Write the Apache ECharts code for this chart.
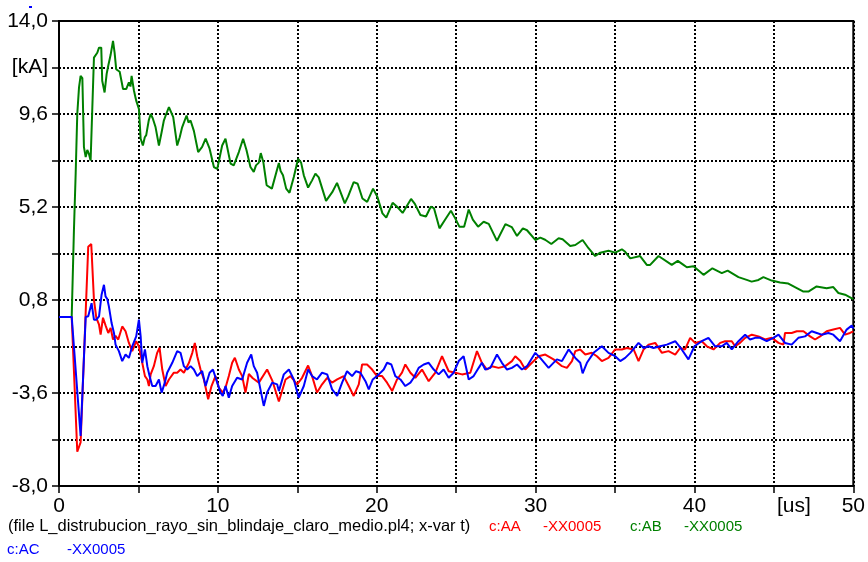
<!DOCTYPE html>
<html>
<head>
<meta charset="utf-8">
<script src="https://cdn.jsdelivr.net/npm/echarts@6/dist/echarts.min.js"></script>
<style>
  html, body { margin: 0; padding: 0; background: #fff; }
  #chart { width: 868px; height: 562px; }
</style>
</head>
<body>
<div id="chart"></div>
<script>
// ---- data (time in us, current in kA) ----
const xTickLabels = ['0', '10', '20', '30', '40', '[us]', '50'];
const yTickLabels = ['-8,0', '-3,6', '0,8', '5,2', '9,6', '[kA]', '14,0'];

// c:AA -XX0005 (red)
const aaData = [[0,0],[0.8,0],[1.15,-6.38],[1.36,-5.94],[1.84,3.32],[2.03,3.45],[2.2,0.81],[2.35,-0.05],[2.52,-0.37],[2.62,-0.84],[2.77,-0.04],[2.93,-0.4],[3.1,-0.76],[3.25,-0.52],[3.4,-1.07],[3.56,-0.9],[3.73,-1.07],[3.98,-0.45],[4.19,-0.68],[4.4,-1.23],[4.61,-1.62],[4.86,-1.15],[5.03,-1.4],[5.24,-2.17],[5.41,-2.8],[5.56,-2.96],[5.66,-3.27],[5.77,-2.72],[5.97,-2.33],[6.18,-1.7],[6.33,-1.46],[6.5,-2.49],[6.71,-3.27],[6.92,-2.96],[7.23,-2.64],[7.44,-2.64],[7.65,-2.49],[7.86,-2.64],[8.18,-2.17],[8.39,-1.7],[8.55,-1.23],[8.7,-1.86],[8.91,-2.49],[9.12,-2.96],[9.39,-3.9],[9.6,-3.27],[9.85,-2.8],[10.06,-3.35],[10.31,-3.58],[10.48,-3.35],[10.69,-2.8],[10.9,-2.17],[11.07,-1.93],[11.32,-2.49],[11.53,-2.8],[11.74,-3.58],[11.95,-2.7],[12.2,-2.9],[12.58,-3.11],[13.1,-2.49],[13.42,-3.0],[13.84,-4.0],[14.26,-2.96],[14.57,-2.8],[14.99,-3.19],[15.3,-2.88],[15.68,-2.3],[15.93,-2.8],[16.24,-3.58],[16.56,-3.19],[16.88,-2.88],[17.19,-3.11],[17.51,-2.96],[17.92,-2.8],[18.24,-3.27],[18.55,-3.74],[18.87,-3.19],[19.08,-2.25],[19.39,-2.25],[19.71,-2.49],[20.02,-2.8],[20.34,-2.8],[20.65,-3.11],[20.97,-3.51],[21.28,-2.96],[21.59,-2.64],[21.8,-2.25],[22.12,-2.64],[22.43,-2.88],[22.85,-2.49],[23.27,-3.04],[23.69,-2.64],[24.11,-1.86],[24.53,-2.57],[24.95,-2.64],[25.37,-2.72],[25.89,-2.64],[26.31,-1.62],[26.62,-2.17],[26.94,-2.49],[27.25,-2.33],[27.67,-2.41],[28.09,-2.33],[28.51,-2.09],[28.72,-1.86],[29.04,-2.09],[29.35,-2.49],[29.77,-2.17],[30.19,-1.86],[30.61,-1.78],[31.13,-2.01],[31.66,-2.33],[31.97,-2.41],[32.29,-2.09],[32.5,-1.62],[32.81,-1.54],[33.13,-1.78],[33.54,-1.7],[33.86,-1.86],[34.17,-2.09],[34.59,-1.94],[35.01,-1.54],[35.43,-1.54],[35.75,-1.47],[36.17,-1.54],[36.48,-2.09],[36.8,-1.54],[37.11,-1.31],[37.53,-1.23],[37.95,-1.7],[38.37,-1.62],[38.79,-1.78],[39.1,-1.47],[39.41,-1.54],[39.73,-0.99],[40.04,-1.23],[40.46,-1.15],[40.78,-1.39],[41.2,-1.54],[41.62,-1.23],[41.93,-1.15],[42.35,-1.15],[42.56,-1.39],[42.87,-1.23],[43.19,-0.99],[43.61,-0.84],[44.03,-0.92],[44.45,-1.07],[44.87,-0.99],[45.29,-1.23],[45.6,-1.31],[45.7,-0.76],[46.12,-0.76],[46.44,-0.68],[46.86,-0.68],[47.28,-0.92],[47.59,-1.07],[47.91,-0.92],[48.32,-0.68],[48.74,-0.6],[49.16,-0.52],[49.48,-0.84],[49.79,-0.76],[50,-0.68]];

// c:AB -XX0005 (green)
const abData = [[0,0],[0.8,0],[0.94,4.1],[1.05,6.8],[1.15,9.6],[1.26,10.86],[1.36,11.4],[1.47,11.3],[1.57,8.03],[1.68,7.56],[1.78,7.9],[1.89,7.7],[1.99,7.4],[2.2,12.27],[2.3,12.3],[2.41,12.5],[2.52,12.74],[2.66,12.74],[2.72,11.17],[2.87,10.62],[3.0,11.5],[3.1,11.88],[3.25,12.4],[3.4,13.06],[3.5,12.5],[3.6,11.72],[3.72,11.65],[3.82,11.6],[4.03,10.78],[4.23,10.78],[4.4,11.1],[4.5,10.9],[4.57,11.4],[4.72,10.7],[4.86,10.23],[5.03,9.84],[5.14,8.43],[5.28,8.11],[5.4,8.5],[5.49,8.6],[5.65,9.3],[5.77,9.6],[5.9,9.4],[6.08,8.97],[6.29,8.11],[6.45,8.7],[6.6,9.29],[6.75,9.6],[6.92,9.92],[7.05,9.7],[7.19,9.45],[7.44,8.11],[7.6,8.5],[7.75,8.97],[8.03,9.53],[8.15,9.2],[8.28,9.29],[8.49,8.8],[8.76,7.8],[9.01,8.04],[9.23,8.43],[9.48,7.96],[9.75,7.09],[9.96,7.0],[10.27,8.11],[10.48,8.43],[10.8,7.25],[11.0,7.17],[11.32,7.8],[11.59,8.43],[11.8,7.9],[12.05,7.09],[12.26,6.86],[12.4,7.17],[12.58,7.3],[12.7,7.75],[12.86,7.33],[13.07,6.23],[13.4,6.07],[13.84,7.28],[13.95,6.9],[14.1,6.7],[14.3,6.07],[14.51,5.87],[14.78,6.62],[15.05,7.48],[15.24,7.3],[15.41,6.7],[15.68,6.12],[15.93,6.46],[16.14,6.78],[16.35,6.6],[16.81,5.49],[17.2,5.9],[17.5,6.34],[17.99,5.37],[18.2,5.7],[18.55,6.38],[18.8,6.3],[19.1,5.6],[19.4,5.44],[19.77,6.07],[20.04,5.68],[20.36,4.9],[20.6,4.7],[21.0,5.4],[21.3,5.2],[21.63,4.92],[22.16,5.58],[22.4,5.35],[22.75,4.82],[23.1,4.75],[23.4,5.21],[23.6,5.15],[23.95,4.19],[24.3,4.6],[24.67,5.02],[24.95,4.65],[25.2,4.27],[25.5,4.27],[25.79,5.08],[26.05,4.6],[26.38,4.27],[26.73,4.5],[27.05,4.4],[27.57,3.6],[28.1,4.39],[28.5,4.25],[28.83,3.83],[29.2,4.19],[29.46,4.1],[29.98,3.64],[30.3,3.75],[30.6,3.65],[30.99,3.45],[31.45,3.72],[31.7,3.67],[32.18,3.35],[32.5,3.4],[32.96,3.64],[33.33,3.25],[33.75,2.88],[34.07,3.04],[34.59,3.13],[35.01,3.04],[35.43,3.2],[35.64,3.08],[35.96,2.77],[36.58,2.88],[37.0,2.46],[37.21,2.46],[37.74,2.88],[38.57,2.46],[38.95,2.65],[39.31,2.46],[39.52,2.35],[39.94,2.4],[40.57,1.99],[41.13,2.3],[41.72,2.07],[42.09,2.19],[42.77,1.88],[43.29,1.75],[43.6,1.67],[44.03,1.75],[44.34,1.88],[44.86,1.72],[45.39,1.63],[45.91,1.58],[46.86,1.2],[47.17,1.2],[47.69,1.44],[48.32,1.36],[48.74,1.41],[49.06,1.13],[49.48,1.05],[50,0.84]];

// c:AC -XX0005 (blue)
const acData = [[0,0],[0.8,0],[1.36,-5.63],[1.47,-5.63],[1.68,0.0],[1.84,0.03],[2.05,0.65],[2.2,-0.13],[2.35,-0.13],[2.52,0.03],[2.68,1.05],[2.83,1.52],[2.93,0.97],[3.04,0.85],[3.14,0.5],[3.31,-0.29],[3.46,-0.76],[3.56,-1.31],[3.77,-1.62],[3.98,-2.09],[4.19,-1.78],[4.4,-1.94],[4.61,-1.39],[4.86,-0.92],[5.03,-0.13],[5.14,-0.92],[5.24,-2.17],[5.41,-1.54],[5.56,-2.33],[5.7,-2.8],[5.87,-3.27],[6.08,-3.27],[6.29,-2.96],[6.46,-3.58],[6.66,-3.11],[6.81,-2.64],[7.13,-2.17],[7.44,-1.62],[7.65,-1.7],[7.86,-2.33],[8.07,-2.49],[8.28,-2.33],[8.49,-2.49],[8.7,-2.8],[9.01,-2.56],[9.23,-3.27],[9.48,-2.64],[9.69,-2.49],[9.96,-3.11],[10.17,-3.58],[10.31,-3.74],[10.48,-3.27],[10.69,-3.82],[10.9,-3.27],[11.21,-2.88],[11.53,-2.96],[11.84,-2.17],[12.1,-1.78],[12.26,-2.33],[12.47,-2.64],[12.68,-3.43],[12.89,-4.21],[13.1,-3.58],[13.42,-3.11],[13.73,-3.19],[13.84,-3.51],[14.15,-2.72],[14.47,-2.49],[14.78,-2.96],[15.09,-3.82],[15.41,-3.27],[15.68,-2.49],[15.93,-2.8],[16.24,-2.96],[16.56,-2.64],[16.88,-2.72],[17.19,-3.43],[17.51,-3.74],[17.82,-3.11],[18.13,-2.57],[18.45,-2.8],[18.7,-2.57],[18.97,-2.64],[19.29,-3.04],[19.5,-3.43],[19.75,-2.96],[20.13,-2.72],[20.44,-2.49],[20.65,-2.17],[20.92,-2.25],[21.17,-2.8],[21.49,-2.96],[21.8,-3.27],[22.12,-3.11],[22.33,-2.88],[22.64,-2.41],[22.96,-2.25],[23.27,-2.17],[23.59,-2.49],[23.9,-2.72],[24.21,-2.49],[24.53,-2.88],[24.84,-2.64],[25.16,-2.09],[25.47,-1.86],[25.79,-2.96],[26.1,-2.8],[26.42,-2.41],[26.62,-2.17],[26.83,-2.49],[27.15,-2.41],[27.57,-1.78],[27.88,-2.17],[28.2,-2.49],[28.51,-2.41],[28.83,-2.25],[29.14,-2.49],[29.46,-2.33],[29.98,-1.7],[30.29,-1.94],[30.82,-2.41],[31.34,-2.01],[31.66,-2.09],[32.08,-1.54],[32.5,-1.94],[32.81,-2.17],[32.96,-2.67],[33.23,-2.17],[33.65,-1.7],[34.17,-1.39],[34.59,-1.7],[35.01,-1.86],[35.33,-2.09],[35.64,-1.94],[35.96,-1.7],[36.48,-1.23],[36.8,-1.47],[37.11,-1.39],[37.42,-1.47],[37.84,-1.39],[38.26,-1.31],[38.79,-1.15],[39.2,-1.54],[39.62,-2.01],[40.0,-1.39],[40.46,-1.15],[40.88,-0.99],[41.3,-1.39],[41.72,-1.39],[42.03,-1.23],[42.35,-1.54],[42.77,-1.15],[43.19,-0.84],[43.5,-1.07],[43.82,-0.99],[44.13,-0.99],[44.55,-1.15],[44.97,-0.99],[45.29,-0.84],[45.7,-1.23],[46.12,-1.31],[46.54,-0.99],[46.96,-0.92],[47.38,-0.68],[47.7,-0.76],[48.01,-0.84],[48.43,-0.76],[48.74,-0.84],[49.16,-1.15],[49.58,-0.6],[49.9,-0.41],[50,-0.55]];

const footerText = '(file L_distrubucion_rayo_sin_blindaje_claro_medio.pl4; x-var t)';
const seriesNames = ['c:AA', 'c:AB', 'c:AC'];
const seriesVars = ['-XX0005', '-XX0005', '-XX0005'];

// ---- chart ----
const axisFont = "'Liberation Sans', Arial, sans-serif";
const textFont = "'Liberation Sans', Arial, sans-serif";
const X_MIN = 0, X_MAX = 50, X_STEP = 5;
const Y_MIN = -8, Y_MAX = 14, Y_STEP = 2.2;

const chart = echarts.init(document.getElementById('chart'), null, { renderer: 'canvas' });

const gridDots = { color: '#000', width: 2, type: [2, 2] };

const option = {
  animation: false,
  backgroundColor: '#fff',
  grid: { left: 59, right: 13, top: 21, bottom: 76, show: true, borderColor: '#000', borderWidth: 2, backgroundColor: 'transparent' },
  xAxis: {
    type: 'value', min: X_MIN, max: X_MAX, interval: X_STEP,
    axisLine: { show: true, onZero: false, lineStyle: { color: '#000', width: 2 } },
    axisTick: { show: true, length: 7, lineStyle: { color: '#000', width: 1.5 } },
    splitLine: { show: true, lineStyle: gridDots },
    axisLabel: {
      margin: 10, color: '#000', fontFamily: axisFont, fontSize: 21,
      formatter: function (v) {
        const i = Math.round(v / X_STEP);
        if (i % 2 === 0) return xTickLabels[i / 2 + (i >= 10 ? 1 : 0)];
        if (i === 9) return '{u|' + xTickLabels[5] + '}';
        return '';
      },
      rich: { u: { fontFamily: axisFont, fontSize: 21, color: '#000', padding: [0, 0, 0, 40] } }
    }
  },
  yAxis: {
    type: 'value', min: Y_MIN, max: Y_MAX, interval: Y_STEP,
    axisLine: { show: true, onZero: false, lineStyle: { color: '#000', width: 2 } },
    axisTick: { show: true, length: 7, lineStyle: { color: '#000', width: 1.5 } },
    splitLine: { show: true, lineStyle: gridDots },
    axisLabel: {
      margin: 11, color: '#000', fontFamily: axisFont, fontSize: 21,
      formatter: function (v) {
        const i = Math.round((v - Y_MIN) / Y_STEP);
        if (i % 2 === 0) return yTickLabels[i / 2 + (i >= 10 ? 1 : 0)];
        if (i === 9) return yTickLabels[5];
        return '';
      }
    }
  },
  series: [
    { name: 'AB', type: 'line', data: abData, showSymbol: false, symbol: 'none', lineStyle: { color: '#008000', width: 2 }, z: 2 },
    { name: 'AA', type: 'line', data: aaData, showSymbol: false, symbol: 'none', lineStyle: { color: '#ff0000', width: 2 }, z: 3 },
    { name: 'AC', type: 'line', data: acData, showSymbol: false, symbol: 'none', lineStyle: { color: '#0000ff', width: 2 }, z: 4 }
  ],
  graphic: [
    { type: 'rect', left: 29, top: 6, shape: { width: 3, height: 2 }, style: { fill: '#0000ff' } },
    { type: 'text', left: 8, top: 518, style: { text: footerText, fill: '#000', font: '16.5px ' + textFont } },
    { type: 'text', left: 489, top: 519, style: { text: seriesNames[0], fill: '#ff0000', font: '15px ' + textFont } },
    { type: 'text', left: 543, top: 519, style: { text: seriesVars[0], fill: '#ff0000', font: '15px ' + textFont } },
    { type: 'text', left: 630, top: 519, style: { text: seriesNames[1], fill: '#008000', font: '15px ' + textFont } },
    { type: 'text', left: 684, top: 519, style: { text: seriesVars[1], fill: '#008000', font: '15px ' + textFont } },
    { type: 'text', left: 7, top: 542, style: { text: seriesNames[2], fill: '#0000ff', font: '15px ' + textFont } },
    { type: 'text', left: 67, top: 542, style: { text: seriesVars[2], fill: '#0000ff', font: '15px ' + textFont } }
  ]
};
chart.setOption(option);
</script>
</body>
</html>
